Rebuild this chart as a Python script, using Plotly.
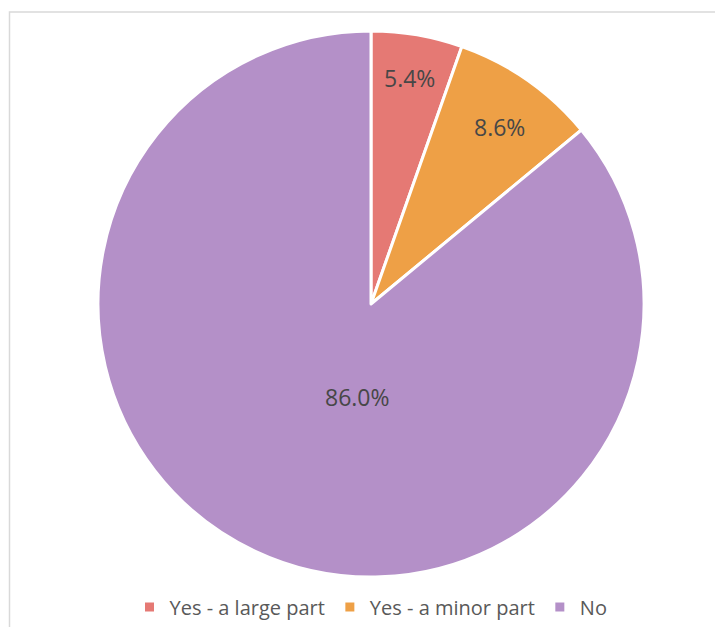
import math
import plotly.graph_objects as go

# Share of respondents by answer
categories = ["Yes - a large part", "Yes - a minor part", "No"]
shares = [5.4, 8.6, 86.0]
colors = ["#E57974", "#EEA046", "#B490C8"]

W, H = 715, 627

# Pie geometry in pixels
CX, CY, R = 371, 304, 273
# Where each percentage label sits: fraction of radius and angular nudge (deg)
label_radius = [0.84, 0.80, 0.345]
label_shift = [0.0, 1.0, -17.0]

fig = go.Figure(
    go.Pie(
        labels=categories,
        values=shares,
        sort=False,
        direction="clockwise",
        rotation=0,
        marker=dict(colors=colors, line=dict(color="white", width=3)),
        textinfo="none",
        hoverinfo="label+percent",
        domain=dict(x=[(CX - R) / W, (CX + R) / W], y=[1 - (CY + R) / H, 1 - (CY - R) / H]),
    )
)

# Percentage labels placed along each slice's bisector
annotations = []
total = sum(shares)
acc = 0.0
for val, rf, shift in zip(shares, label_radius, label_shift):
    mid = (acc + val / 2) / total * 360 + shift
    acc += val
    a = math.radians(mid)
    px = CX + rf * R * math.sin(a)
    py = CY - rf * R * math.cos(a)
    annotations.append(
        dict(
            x=px / W,
            y=1 - py / H,
            xref="paper",
            yref="paper",
            text=f"{val:.1f}%",
            showarrow=False,
            xanchor="center",
            yanchor="middle",
            font=dict(family="Open Sans", size=23, color="#474747"),
        )
    )

fig.update_layout(
    width=W,
    height=H,
    margin=dict(l=0, r=0, t=0, b=0, autoexpand=False),
    paper_bgcolor="white",
    plot_bgcolor="white",
    showlegend=True,
    annotations=annotations,
    legend=dict(
        orientation="h",
        x=CX / W,
        xanchor="center",
        y=1 - 607 / H,
        yanchor="middle",
        font=dict(family="Open Sans", size=20, color="#595959"),
        itemclick=False,
    ),
    shapes=[
        dict(
            type="rect",
            xref="paper",
            yref="paper",
            x0=9.5 / W,
            x1=1.05,
            y0=-0.05,
            y1=1 - 12 / H,
            line=dict(color="#D9D9D9", width=1.5),
            fillcolor="rgba(0,0,0,0)",
            layer="below",
        )
    ],
)

fig.write_html("out.html")
